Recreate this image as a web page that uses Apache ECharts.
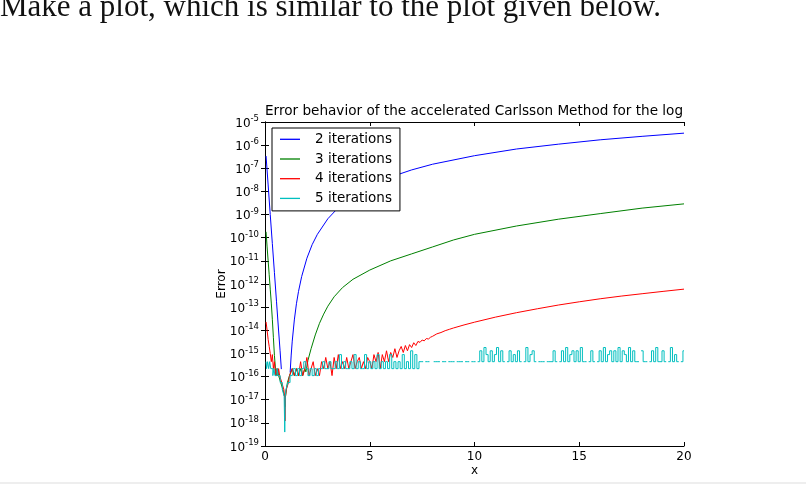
<!DOCTYPE html>
<html><head><meta charset="utf-8">
<script src="https://cdn.jsdelivr.net/npm/echarts/dist/echarts.min.js"></script>
<style>html,body{margin:0;padding:0;background:#fff}#c{width:806px;height:484px}</style>
</head><body><div id="c"></div>
<script>
const headingText = 'Make a plot, which is similar to the plot given below.';
const titleText = 'Error behavior of the accelerated Carlsson Method for the log';
const seriesNames = ['2 iterations', '3 iterations', '4 iterations', '5 iterations'];
const seriesColors = ['#0000ff', '#008000', '#ff0000', '#00bfbf'];
const xTickValues = [0, 5, 10, 15, 20];
const yTickExponents = [-19, -18, -17, -16, -15, -14, -13, -12, -11, -10, -9, -8, -7, -6, -5];

const blueData = [[0.05,3.4e-7],[0.15,1.9e-8],[0.25,1e-9],[0.35,5.6e-11],[0.45,3.1e-12],[0.55,1.7e-13],[0.65,9.3e-15],[0.72,1.3e-15],[0.78,2.1e-16],[1.0,'-'],
 [1.2,1.5e-16],[1.25,8.5e-16],[1.3,3.4e-15],[1.4,2.8e-14],[1.5,1.4e-13],[1.6,4.8e-13],[1.75,2.1e-12],[2,1.3e-11],[2.25,5e-11],[2.5,1.4e-10],[3,6.6e-10],[3.5,2e-9],[4,4.8e-9],[5,1.7e-8],[6,4.2e-8],[7,8.5e-8],[8,1.5e-7],[10,3.5e-7],[12,6.8e-7],[14,1.1e-6],[16,1.7e-6],[18,2.4e-6],[20,3.3e-6]];

const greenData = [[0.05,1.8e-10],[0.1,4e-11],[0.15,1e-11],[0.2,2.5e-12],[0.25,6e-13],[0.3,1.5e-13],[0.35,3e-14],[0.4,5e-15],[0.45,8e-16],[0.5,2.2e-16],
 [0.55,1.1e-16],[0.6,2.2e-16],[0.65,1.1e-16],[0.7,1.1e-16],[0.75,5.5e-17],[0.8,5.5e-17],[0.85,2.8e-17],[0.9,2.8e-17],[0.93,1.4e-17],[0.955,5e-18],[0.98,1.4e-17],
 [1.02,2.8e-17],[1.07,5.5e-17],[1.12,5.5e-17],[1.17,1.1e-16],[1.22,1.1e-16],[1.3,2.2e-16],[1.4,1.1e-16],[1.5,2.2e-16],[1.6,1.1e-16],[1.7,2.2e-16],[1.8,1.1e-16],[1.9,2.2e-16],
 [1.95,1.6e-16],[2.05,5e-16],[2.2,1.6e-15],[2.4,6.3e-15],[2.6,2e-14],[2.8,5e-14],[3,1.1e-13],[3.3,2.8e-13],[3.7,7e-13],[4.2,1.6e-12],[5,4e-12],[6,1e-11],[7,2e-11],[8,4e-11],[9,8e-11],[10,1.4e-10],[12,3.2e-10],[14,6.3e-10],[16,1.1e-9],[18,1.9e-9],[20,2.9e-9]];

const redData = [[0.05,2.3e-14],[0.1,1e-14],[0.15,4e-15],[0.2,2e-15],[0.25,1e-15],[0.3,4.4e-16],[0.35,8.9e-16],[0.4,2.2e-16],[0.45,4.4e-16],[0.5,1.1e-16],
 [0.55,2.2e-16],[0.6,1.1e-16],[0.65,2.2e-16],[0.7,1.1e-16],[0.75,1.1e-16],[0.8,5.5e-17],[0.85,5.5e-17],[0.9,2.8e-17],[0.93,1.4e-17],[0.955,1.2e-18],[0.98,1.4e-17],
 [1.02,2.8e-17],[1.07,2.8e-17],[1.12,5.5e-17],[1.17,1.1e-16],[1.22,1.1e-16],[1.3,2.2e-16],[1.4,1.1e-16],[1.5,2.2e-16],[1.6,1.1e-16],[1.7,4.4e-16],[1.8,1.1e-16],[1.9,2.2e-16],
 [2.0,6.7e-16],[2.1,1.1e-16],[2.2,2.2e-16],[2.3,4.4e-16],[2.4,1.1e-16],[2.5,2.2e-16],[2.6,1.1e-16],
 [2.7,4.4e-16],[2.8,2.2e-16],[2.9,6.7e-16],[3.0,2.2e-16],[3.1,4.4e-16],[3.2,1.1e-16],[3.3,6.7e-16],[3.4,2.2e-16],[3.5,8.9e-16],[3.6,2.2e-16],
 [3.7,4.4e-16],[3.8,2.2e-16],[3.9,6.7e-16],[4.0,2.2e-16],[4.1,4.4e-16],[4.2,8.9e-16],[4.3,2.2e-16],[4.4,4.4e-16],[4.5,6.7e-16],[4.6,2.2e-16],
 [4.7,4.4e-16],[4.8,2.2e-16],[4.9,6.7e-16],[5.0,4.4e-16],[5.1,2.2e-16],[5.2,8.9e-16],[5.3,4.4e-16],[5.4,1.1e-15],[5.5,2.2e-16],[5.6,8.9e-16],
 [5.7,4.4e-16],[5.8,1.3e-15],[5.9,4.4e-16],[6.0,1.1e-15],[6.1,6.7e-16],[6.2,1.6e-15],[6.3,6.7e-16],[6.4,1.3e-15],[6.5,2e-15],[6.6,1.1e-15],
 [6.7,2.2e-15],[6.8,1.3e-15],[6.9,2.4e-15],[7.0,1.8e-15],[7.1,2.9e-15],[7.2,2.2e-15],[7.3,3.3e-15],[7.4,3e-15],[7.5,3.8e-15],[7.6,3.5e-15],
 [7.7,4.4e-15],[7.8,4.2e-15],[7.9,5e-15],[8.0,5.5e-15],[8.2,7e-15],[8.4,8e-15],[8.6,9.6e-15],[8.8,1.1e-14],[9,1.26e-14],[9.5,1.7e-14],[10,2.24e-14],
 [11,3.7e-14],[12,5.75e-14],[13,8.5e-14],[14,1.23e-13],[15,1.7e-13],[16,2.3e-13],[17,3e-13],[18,3.8e-13],[19,4.8e-13],[20,6e-13]];

const cyanData = [[0.05,4.4e-16],[0.1,2.2e-16],[0.15,4.4e-16],[0.2,2.2e-16],[0.25,4.4e-16],[0.3,2.2e-16],[0.35,2.2e-16],[0.4,1.1e-16],[0.45,2.2e-16],[0.5,1.1e-16],
 [0.55,1.1e-16],[0.6,2.2e-16],[0.65,1.1e-16],[0.7,1.1e-16],[0.75,5.5e-17],[0.8,5.5e-17],[0.85,2.8e-17],[0.9,2.8e-17],[0.93,1.4e-17],[0.955,4e-19],[0.98,1.4e-17],
 [1.02,2.8e-17],[1.07,2.8e-17],[1.12,5.5e-17],[1.17,5.5e-17],[1.22,1.1e-16],[1.3,1.1e-16],
 [1.4,2.2e-16],[1.5,1.1e-16],[1.6,2.2e-16],[1.7,1.1e-16],[1.8,2.2e-16],[1.9,4.4e-16],[2.0,2.2e-16],[2.1,1.1e-16],[2.2,2.2e-16],[2.3,1.1e-16],[2.4,2.2e-16],[2.5,1.1e-16],[2.6,2.2e-16],
 [2.7,2.2e-16],[2.8,4.4e-16],[2.9,2.2e-16],[3.0,2.2e-16],[3.1,4.4e-16],[3.2,2.2e-16],[3.3,2.2e-16],[3.4,4.4e-16],[3.5,2.2e-16],[3.6,8.9e-16],
 [3.7,2.2e-16],[3.8,4.4e-16],[3.9,2.2e-16],[4.0,2.2e-16],[4.1,4.4e-16],[4.2,2.2e-16],[4.3,8.9e-16],[4.4,2.2e-16],[4.5,4.4e-16],[4.6,2.2e-16],
 [4.7,2.2e-16],[4.8,8.9e-16],[4.9,2.2e-16],[5.0,4.4e-16],[5.1,2.2e-16],[5.2,4.4e-16],[5.3,2.2e-16],[5.4,8.9e-16],[5.5,2.2e-16],[5.6,4.4e-16],
 [5.7,2.2e-16],[5.8,4.4e-16],[5.9,2.2e-16],[6.0,8.9e-16],[6.1,2.2e-16],[6.2,4.4e-16],[6.3,2.2e-16],[6.4,4.4e-16],[6.5,2.2e-16],[6.6,8.9e-16],
 [6.7,2.2e-16],[6.8,4.4e-16],[6.9,2.2e-16],[7.0,1.3e-15],[7.1,2.2e-16],[7.2,8.9e-16],[7.3,2.2e-16],[7.4,4.4e-16],[7.5,4.4e-16],[7.6,'-'],
 [7.7,4.4e-16],[7.8,4.4e-16],[7.9,'-'],[8.0,'-'],[8.1,4.4e-16],[8.2,4.4e-16],[8.3,4.4e-16],[8.4,'-'],[8.5,4.4e-16],[8.6,4.4e-16],
 [8.7,'-'],[8.8,4.4e-16],[8.9,4.4e-16],[9.0,4.4e-16],[9.1,'-'],[9.2,4.4e-16],[9.3,4.4e-16],[9.4,4.4e-16],[9.5,'-'],[9.6,4.4e-16],
 [9.7,4.4e-16],[9.8,'-'],[9.9,4.4e-16],[10.0,4.4e-16],[10.1,'-'],[10.2,4.4e-16],[10.3,1.3e-15],[10.4,4.4e-16],[10.5,1.8e-15],[10.6,8.9e-16],
 [10.7,4.4e-16],[10.8,1.3e-15],[10.9,4.4e-16],[11.0,8.9e-16],[11.1,1.8e-15],[11.2,4.4e-16],[11.3,1.3e-15],[11.4,4.4e-16],[11.5,'-'],[11.6,4.4e-16],
 [11.7,1.3e-15],[11.8,4.4e-16],[11.9,8.9e-16],[12.0,4.4e-16],[12.1,1.3e-15],[12.2,4.4e-16],[12.3,'-'],[12.4,4.4e-16],[12.5,1.8e-15],[12.6,4.4e-16],
 [12.7,8.9e-16],[12.8,1.3e-15],[12.9,4.4e-16],[13.0,'-'],[13.1,4.4e-16],[13.2,4.4e-16],[13.3,4.4e-16],[13.4,'-'],[13.5,4.4e-16],[13.6,4.4e-16],
 [13.7,4.4e-16],[13.8,1.3e-15],[13.9,4.4e-16],[14.0,'-'],[14.1,4.4e-16],[14.2,1.3e-15],[14.3,4.4e-16],[14.4,1.8e-15],[14.5,4.4e-16],[14.6,8.9e-16],
 [14.7,1.3e-15],[14.8,4.4e-16],[14.9,1.3e-15],[15.0,4.4e-16],[15.1,1.8e-15],[15.2,4.4e-16],[15.3,4.4e-16],[15.4,'-'],[15.5,4.4e-16],[15.6,1.3e-15],
 [15.7,4.4e-16],[15.8,'-'],[15.9,4.4e-16],[16.0,1.3e-15],[16.1,4.4e-16],[16.2,1.8e-15],[16.3,4.4e-16],[16.4,8.9e-16],[16.5,1.3e-15],[16.6,4.4e-16],
 [16.7,1.3e-15],[16.8,4.4e-16],[16.9,1.8e-15],[17.0,4.4e-16],[17.1,1.3e-15],[17.2,8.9e-16],[17.3,4.4e-16],[17.4,1.8e-15],[17.5,4.4e-16],[17.6,1.3e-15],
 [17.7,4.4e-16],[17.8,4.4e-16],[17.9,'-'],[18.0,1.3e-15],[18.1,4.4e-16],[18.2,4.4e-16],[18.3,'-'],[18.4,4.4e-16],[18.5,1.3e-15],[18.6,4.4e-16],
 [18.7,1.8e-15],[18.8,4.4e-16],[18.9,4.4e-16],[19.0,1.3e-15],[19.1,4.4e-16],[19.2,'-'],[19.3,4.4e-16],[19.4,1.8e-15],[19.5,4.4e-16],[19.6,8.9e-16],
 [19.7,4.4e-16],[19.8,'-'],[19.9,4.4e-16],[20.0,1.3e-15]];

const seriesData = [blueData, greenData, redData, cyanData];

const FONT = 'DejaVu Sans';
const chart = echarts.init(document.getElementById('c'), null, {renderer: 'canvas'});

function yLabel(v) {
  const e = Math.round(Math.log10(v));
  return yTickExponents.indexOf(e) >= 0 ? '{b|10}{s|' + e + '}' : '';
}

const gridBox = {left: 265, right: 122, top: 122, bottom: 38};
const axisLineStyle = {show: true, lineStyle: {color: '#000', width: 1}};
const tickStyle = {show: true, inside: true, length: 4, lineStyle: {color: '#000', width: 1}};

const option = {
  animation: false,
  backgroundColor: '#fff',
  grid: Object.assign({containLabel: false}, gridBox),
  legend: {
    orient: 'vertical', left: 272, top: 128,
    data: seriesNames,
    icon: 'rect', itemWidth: 20, itemHeight: 1.3, itemGap: 3.7,
    backgroundColor: '#fff', borderColor: '#000', borderWidth: 1, borderRadius: 0,
    padding: [3.3, 8, 4.5, 8],
    selectedMode: false,
    textStyle: {fontFamily: FONT, fontSize: 13.5, color: '#000', lineHeight: 16, padding: [0, 0, 0, 10]}
  },
  xAxis: [
    {type: 'value', min: 0, max: 20, interval: 5, position: 'bottom',
     axisLine: axisLineStyle, axisTick: tickStyle, splitLine: {show: false},
     axisLabel: {color: '#000', fontFamily: FONT, fontSize: 12, margin: 5,
                 formatter: v => xTickValues.indexOf(v) >= 0 ? String(v) : ''}},
    {type: 'value', min: 0, max: 20, interval: 5, position: 'top',
     axisLine: axisLineStyle, axisTick: tickStyle, splitLine: {show: false}, axisLabel: {show: false}}
  ],
  yAxis: [
    {type: 'log', logBase: 10, min: 1e-19, max: 1e-5, interval: 1, splitNumber: 14, position: 'left',
     axisLine: axisLineStyle, axisTick: tickStyle, splitLine: {show: false}, minorTick: {show: false},
     axisLabel: {color: '#000', margin: 6, showMinLabel: true, showMaxLabel: true, hideOverlap: false, interval: 0,
       formatter: yLabel,
       rich: {
         b: {fontFamily: FONT, fontSize: 12, color: '#000', verticalAlign: 'bottom'},
         s: {fontFamily: FONT, fontSize: 8.5, color: '#000', verticalAlign: 'bottom', padding: [0, 0, 6, 0]}
       }}},
    {type: 'log', logBase: 10, min: 1e-19, max: 1e-5, interval: 1, splitNumber: 14, position: 'right',
     axisLine: axisLineStyle, axisTick: tickStyle, splitLine: {show: false}, axisLabel: {show: false}}
  ],
  series: seriesNames.map((name, i) => ({
    name: name, type: 'line', data: seriesData[i],
    xAxisIndex: 0, yAxisIndex: 0,
    showSymbol: false, symbol: 'none', connectNulls: false,
    step: i === 3 ? 'middle' : false,
    clip: true,
    color: seriesColors[i],
    lineStyle: {color: seriesColors[i], width: 1},
    emphasis: {disabled: true}, silent: true
  })),
  graphic: [
    {type: 'text', x: 0, y: -8, style: {text: headingText, font: '31px "Liberation Serif"', fill: '#111', verticalAlign: 'top'}},
    {type: 'text', x: 474, y: 111, style: {text: titleText, font: '13.6px "DejaVu Sans"', fill: '#000', align: 'center', verticalAlign: 'middle'}},
    {type: 'text', x: 474.5, y: 471, style: {text: 'x', font: '12px "DejaVu Sans"', fill: '#000', align: 'center', verticalAlign: 'middle'}},
    {type: 'text', x: 222, y: 284, rotation: Math.PI / 2, style: {text: 'Error', font: '12px "DejaVu Sans"', fill: '#000', align: 'center', verticalAlign: 'middle'}},
    {type: 'rect', shape: {x: 0, y: 482, width: 806, height: 2}, style: {fill: '#eeeeee'}}
  ]
};
chart.setOption(option);
</script>
</body></html>
